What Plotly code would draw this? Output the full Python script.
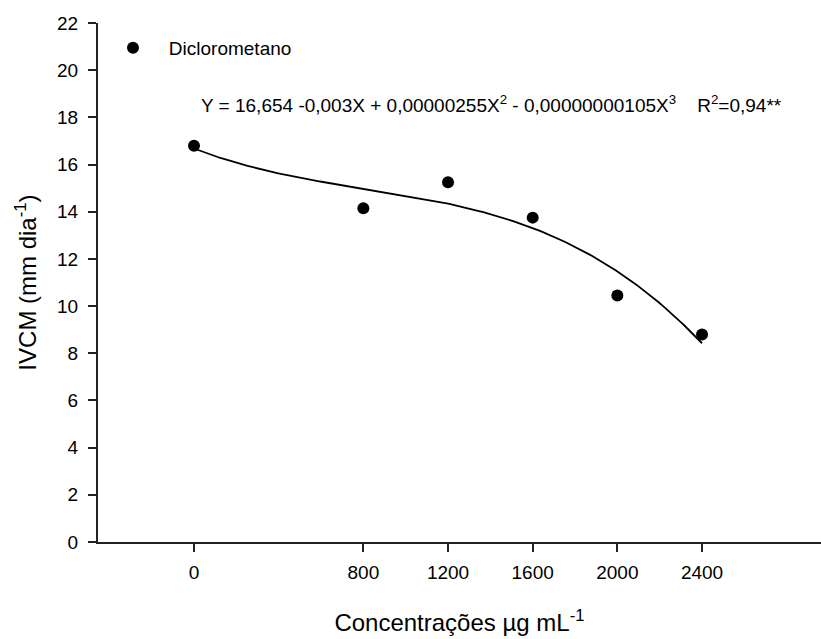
import numpy as np
import plotly.graph_objects as go

# Data
conc = [0, 800, 1200, 1600, 2000, 2400]
ivcm = [16.8, 14.15, 15.25, 13.75, 10.45, 8.8]
series_name = "\u00a0\u00a0\u00a0Diclorometano"
x_ticks = [0, 800, 1200, 1600, 2000, 2400]
y_ticks = list(range(0, 23, 2))
equation = ("Y = 16,654 -0,003X + 0,00000255X<sup>2</sup> - 0,00000000105X<sup>3</sup>"
            "\u00a0\u00a0\u00a0 R<sup>2</sup>=0,94**")

# cubic regression curve fitted to the data
coef = np.polyfit(conc, ivcm, 3)
xf = np.linspace(min(conc), max(conc), 200)
yf = np.polyval(coef, xf)

FONT = "Arial, Liberation Sans, sans-serif"
AX = "#222222"

fig = go.Figure()
fig.add_trace(go.Scatter(x=xf, y=yf, mode="lines", line=dict(color="black", width=1.8),
                         showlegend=False, hoverinfo="skip"))
fig.add_trace(go.Scatter(x=conc, y=ivcm, mode="markers", name=series_name,
                         marker=dict(color="black", size=12)))

fig.add_annotation(text=equation, xref="paper", yref="paper",
                   x=(199 - 98) / 723, y=(542 - 104) / 519,
                   xanchor="left", yanchor="middle", showarrow=False,
                   font=dict(family=FONT, size=19, color="black"))

fig.update_layout(
    width=821, height=639,
    margin=dict(l=98, r=0, t=23, b=97),
    paper_bgcolor="white", plot_bgcolor="white",
    font=dict(family=FONT, size=19, color="black"),
    legend=dict(x=(113 - 98) / 723, y=(542 - 48) / 519, xanchor="left", yanchor="middle",
                bgcolor="rgba(0,0,0,0)", font=dict(family=FONT, size=19)),
    xaxis=dict(range=[-453.5, 2962], tickvals=x_ticks, tickformat="d",
               showgrid=False, zeroline=False, showline=True, linecolor=AX, linewidth=2,
               ticks="outside", ticklen=8, tickwidth=2, tickcolor=AX,
               ticklabelstandoff=4, tickfont=dict(family=FONT, size=19, color="black"),
               title=dict(text="Concentrações µg mL<sup>-1</sup>", standoff=32,
                          font=dict(family=FONT, size=24))),
    yaxis=dict(range=[0, 22], tickvals=y_ticks, showgrid=False, zeroline=False,
               showline=True, linecolor=AX, linewidth=2,
               ticks="outside", ticklen=8, tickwidth=2, tickcolor=AX,
               ticklabelstandoff=6, tickfont=dict(family=FONT, size=19, color="black"),
               title=dict(text="IVCM (mm dia<sup>-1</sup>)", standoff=14,
                          font=dict(family=FONT, size=24))),
)

fig.write_html("out.html")
